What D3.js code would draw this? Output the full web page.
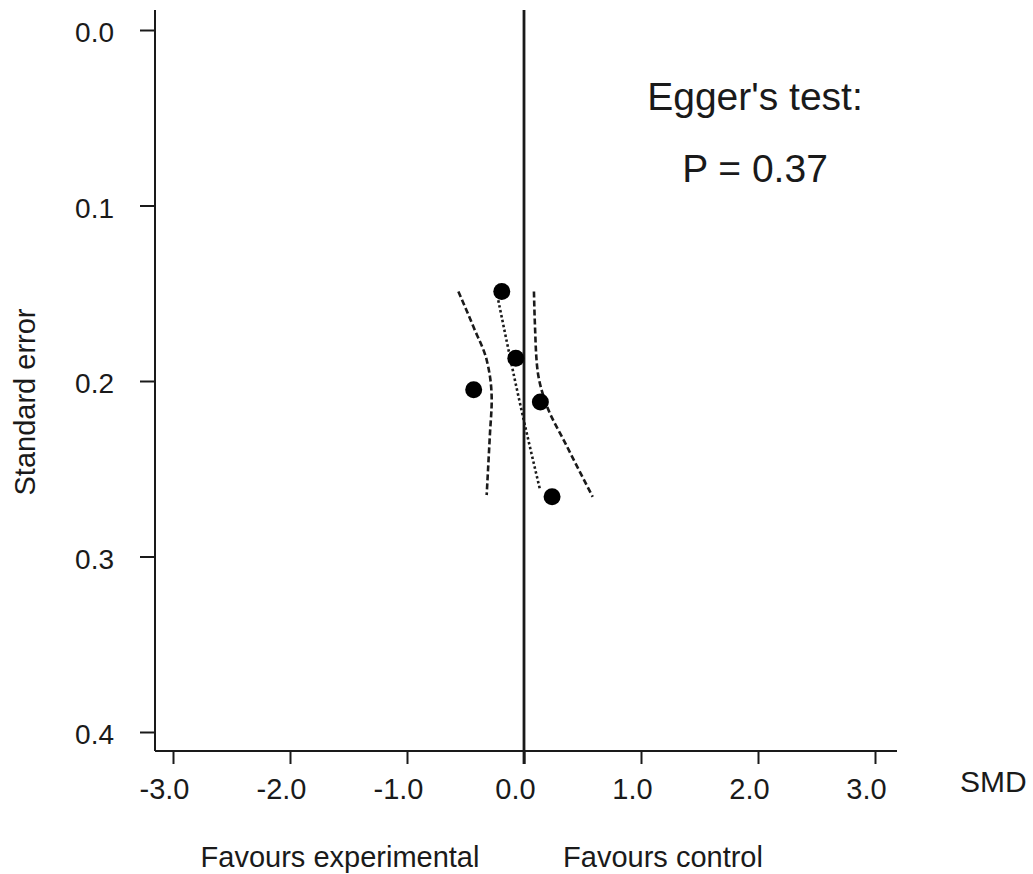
<!DOCTYPE html>
<html>
<head>
<meta charset="utf-8">
<script src="https://cdn.jsdelivr.net/npm/d3@7/dist/d3.min.js"></script>
<style>
  html, body { margin: 0; padding: 0; background: #fff; }
  svg text { font-family: "Liberation Sans", Arial, sans-serif; fill: #1a1a1a; }
</style>
</head>
<body>
<svg id="chart" width="1033" height="874"></svg>
<script>
// ---- data ----
const xTicks = [-3, -2, -1, 0, 1, 2, 3];
const xTickLabels = ["-3.0", "-2.0", "-1.0", "0.0", "1.0", "2.0", "3.0"];
const yTicks = [0, 0.1, 0.2, 0.3, 0.4];
const yTickLabels = ["0.0", "0.1", "0.2", "0.3", "0.4"];

// studies: SMD and standard error
const studySMD = [-0.19, -0.07, -0.43, 0.14, 0.24];
const studySE  = [0.149, 0.187, 0.205, 0.212, 0.266];

// regression line (dotted) and its confidence bounds (dashed)
const midLineSMD = [-0.22, -0.03, 0.137];
const midLineSE  = [0.154, 0.214, 0.262];
const lowerSMD = [-0.561, -0.433, -0.319, -0.276, -0.291, -0.319];
const lowerSE  = [0.149, 0.169, 0.188, 0.211, 0.230, 0.265];
const upperSMD = [0.085, 0.094, 0.114, 0.194, 0.365, 0.587];
const upperSE  = [0.149, 0.169, 0.193, 0.214, 0.237, 0.266];

const xLabel = "SMD";
const yLabel = "Standard error";
const leftNote = "Favours experimental";
const rightNote = "Favours control";
const testTitle = "Egger's test:";
const testP = "P = 0.37";

// ---- drawing ----
const svg = d3.select("#chart");
const x = d3.scaleLinear().domain([-3, 3]).range([173, 875]);
const y = d3.scaleLinear().domain([0, 0.4]).range([30, 732]);

const axisY = 751, axisX = 155;
const ink = "#1a1a1a";

// y axis line
svg.append("line").attr("x1", axisX).attr("x2", axisX)
  .attr("y1", 10).attr("y2", axisY).attr("stroke", ink).attr("stroke-width", 2);
// x axis line
svg.append("line").attr("x1", axisX).attr("x2", 897)
  .attr("y1", axisY).attr("y2", axisY).attr("stroke", ink).attr("stroke-width", 2);

// y ticks
const yAxisG = svg.append("g").attr("transform", `translate(${axisX},0)`)
  .call(d3.axisLeft(y).tickValues(yTicks).tickSize(15).tickPadding(26)
    .tickFormat((d, i) => yTickLabels[i]));
yAxisG.select(".domain").remove();
yAxisG.selectAll(".tick line").attr("stroke", ink).attr("stroke-width", 2);
yAxisG.selectAll(".tick text").attr("font-size", 28).attr("dy", "0.42em")
  .attr("font-family", "Liberation Sans, Arial, sans-serif").attr("fill", ink);

// x ticks
const xAxisG = svg.append("g").attr("transform", `translate(0,${axisY})`)
  .call(d3.axisBottom(x).tickValues(xTicks).tickSize(13).tickPadding(8)
    .tickFormat((d, i) => xTickLabels[i]));
xAxisG.select(".domain").remove();
xAxisG.selectAll(".tick line").attr("stroke", ink).attr("stroke-width", 2);
xAxisG.selectAll(".tick text").attr("font-size", 29).attr("dx", -9).attr("dy", "0.93em")
  .attr("font-family", "Liberation Sans, Arial, sans-serif").attr("fill", ink);

// zero line
svg.append("line").attr("x1", x(0)).attr("x2", x(0))
  .attr("y1", 10).attr("y2", axisY + 13).attr("stroke", ink).attr("stroke-width", 2.8);

// lines
const line = d3.line().x(d => x(d[0])).y(d => y(d[1])).curve(d3.curveMonotoneY);
const zip = (a, b) => a.map((v, i) => [v, b[i]]);

svg.append("path").datum(zip(lowerSMD, lowerSE)).attr("d", line)
  .attr("fill", "none").attr("stroke", ink).attr("stroke-width", 2.6).attr("stroke-dasharray", "6,3");
svg.append("path").datum(zip(upperSMD, upperSE)).attr("d", line)
  .attr("fill", "none").attr("stroke", ink).attr("stroke-width", 2.6).attr("stroke-dasharray", "6,3");
svg.append("path").datum(zip(midLineSMD, midLineSE)).attr("d", line)
  .attr("fill", "none").attr("stroke", ink).attr("stroke-width", 2.6).attr("stroke-dasharray", "2.5,2.5");

// points
svg.append("g").selectAll("circle").data(zip(studySMD, studySE)).join("circle")
  .attr("cx", d => x(d[0])).attr("cy", d => y(d[1])).attr("r", 8.5).attr("fill", "#000");

// labels
svg.append("text").attr("x", 960).attr("y", 792).attr("font-size", 30).text(xLabel);
svg.append("text").attr("transform", "translate(35,402) rotate(-90)")
  .attr("text-anchor", "middle").attr("font-size", 29).text(yLabel);
svg.append("text").attr("x", 340).attr("y", 867).attr("text-anchor", "middle")
  .attr("font-size", 29).text(leftNote);
svg.append("text").attr("x", 663).attr("y", 867).attr("text-anchor", "middle")
  .attr("font-size", 29).text(rightNote);
svg.append("text").attr("x", 755).attr("y", 110).attr("text-anchor", "middle")
  .attr("font-size", 39).text(testTitle);
svg.append("text").attr("x", 755).attr("y", 182).attr("text-anchor", "middle")
  .attr("font-size", 39).text(testP);
</script>
</body>
</html>
